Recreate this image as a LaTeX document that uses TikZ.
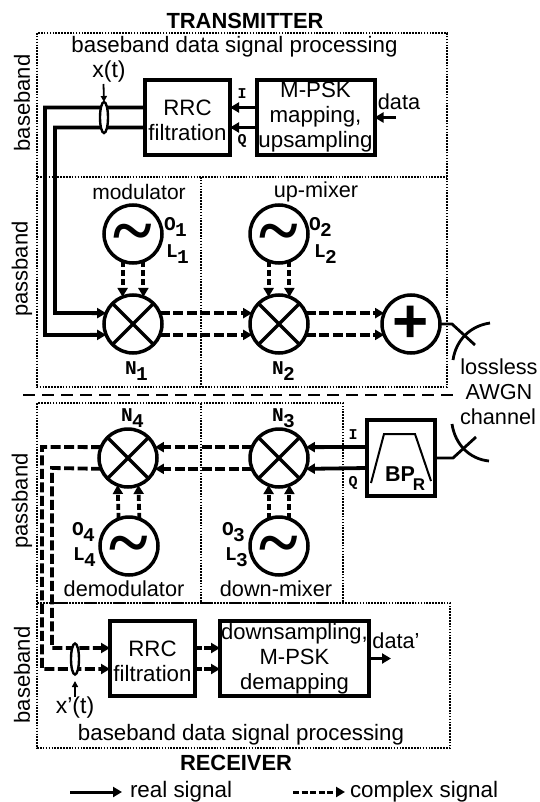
\documentclass[tikz,border=0pt]{standalone}
\usepackage{fontspec}
\setmainfont{Liberation Sans}
\newfontfamily\monof{Liberation Mono}[BoldFont={Liberation Mono Bold}]
\newfontfamily\tildef{Liberation Serif Bold}
\usetikzlibrary{arrows.meta,shapes.geometric}
\newcommand{\fsz}[1]{\fontsize{#1}{#1}\selectfont}
\newcommand{\lab}[2]{#1\kern-0.5pt\raisebox{-6pt}{#2}}
\newcommand{\wave}{\raisebox{-21pt}[0pt][0pt]{\tildef\fontsize{74}{74}\selectfont\symbol{126}}}
\newcommand{\tp}{\rule{0pt}{21pt}}
\tikzset{
  blk/.style={draw,line width=4pt,inner sep=0pt,outer sep=0pt,align=center,font=\fontsize{22.3}{25}\selectfont},
  circ/.style={draw,circle,line width=3.5pt,inner sep=0pt,outer sep=0pt,minimum size=58pt},
  txt/.style={inner sep=0pt,outer sep=0pt,font=\fsz{21.7}},
  head/.style={inner sep=0pt,outer sep=0pt,font=\bfseries\fsz{21.9}},
  mono/.style={inner sep=0pt,outer sep=0pt,anchor=base west,font=\monof\bfseries\fsz{19.5}},
  iq/.style={inner sep=0pt,outer sep=0pt,font=\monof\bfseries\fsz{15}},
  zone/.style={line width=1.8pt,dash pattern=on 1.6pt off 1.3pt},
  wire/.style={line width=3.8pt,line join=miter},
  real/.style={wire,-{Triangle[length=9pt,width=10pt]}},
  cplx/.style={real,dash pattern=on 10pt off 3.5pt},
  osclink/.style={real,dash pattern=on 6pt off 3pt},
  thin/.style={line width=1.8pt,-{Triangle[length=6pt,width=6pt]}},
  ant/.style={line width=2.8pt},
  cross/.style={line width=3.2pt},
  ring/.style={draw,ellipse,line width=2.4pt,fill=white,minimum width=8pt,minimum height=31pt,inner sep=0pt,outer sep=0pt}
}
\begin{document}
\begin{tikzpicture}[x=1pt,y=-1pt]
\useasboundingbox (0,0) rectangle (539,802);
\fill[white] (0,0) rectangle (539,802);
% zones
\draw[zone] (37,33) rectangle (447,387);
\draw[zone] (37,177) -- (447,177);
\draw[zone] (201,177) -- (201,387);
\draw[zone] (37,403) rectangle (343,603);
\draw[zone] (201,403) -- (201,603);
\draw[zone] (37,603) rectangle (450,748);
\draw[line width=1.8pt,dash pattern=on 12pt off 7pt] (23,395) -- (455,395);
% titles
\node[head] at (245,21) {TRANSMITTER};
\node[head] at (236,763) {RECEIVER};
\node[txt,font=\fsz{22.3}] at (234.5,47) {baseband data signal processing};
\node[txt,font=\fsz{22.3}] at (241,734.5) {baseband data signal processing};
\node[txt,font=\fsz{22},rotate=90] at (22,103) {baseband};
\node[txt,font=\fsz{22},rotate=90] at (22,269) {passband};
\node[txt,font=\fsz{22},rotate=90] at (22,501) {passband};
\node[txt,font=\fsz{22},rotate=90] at (22,675) {baseband};
\node[txt,font=\fsz{21}] at (139,192) {modulator};
\node[txt] at (316,192) {up-mixer};
\node[txt] at (124,589) {demodulator};
\node[txt] at (276,589) {down-mixer};
% blocks
\node[blk,minimum width=85pt,minimum height=75pt] (rrct) at (187.5,117.5) {\tp RRC\\filtration};
\node[blk,minimum width=118pt,minimum height=75pt] (psk) at (315.5,117.5) {M-PSK\\mapping,\\upsampling};
\node[blk,minimum width=85pt,minimum height=75pt] (rrcr) at (152.5,658.5) {\tp RRC\\filtration};
\node[blk,minimum width=149pt,minimum height=75pt,font=\fontsize{22}{25}\selectfont] (dem) at (294.5,658.5) {downsampling,\\M-PSK\\demapping};
\node[blk,minimum width=68pt,minimum height=76pt] (bp) at (401,458) {};
% circles
\node[circ] (o1) at (133,234) {\wave};
\node[circ] (o2) at (279,234) {\wave};
\node[circ] (o4) at (129,546) {\wave};
\node[circ] (o3) at (279,546) {\wave};
\node[circ] (n1) at (133,324) {};
\node[circ] (n2) at (279,324) {};
\node[circ] (n3) at (279,458) {};
\node[circ] (n4) at (128,458) {};
\node[circ,font=\bfseries\fsz{62}] (sum) at (411,324) {+};
\foreach \m in {n1,n2,n3,n4}{
  \draw[cross] (\m.45) -- (\m.225);
  \draw[cross] (\m.135) -- (\m.315);
}
% mono labels
\node[mono] at (164,230) {\lab{O}{1}};
\node[mono] at (166,257) {\lab{L}{1}};
\node[mono] at (309,230) {\lab{O}{2}};
\node[mono] at (314,257) {\lab{L}{2}};
\node[mono] at (125,374) {\lab{N}{1}};
\node[mono] at (272,374) {\lab{N}{2}};
\node[mono] at (121,421) {\lab{N}{4}};
\node[mono] at (272,421) {\lab{N}{3}};
\node[mono] at (72,535) {\lab{O}{4}};
\node[mono] at (73,560) {\lab{L}{4}};
\node[mono] at (222,535) {\lab{O}{3}};
\node[mono] at (225,560) {\lab{L}{3}};
\node[iq] at (242,94) {I};
\node[iq] at (242,141) {Q};
\node[iq] at (353,435) {I};
\node[iq] at (353,483) {Q};
% transmitter wiring
\draw[real] ([yshift=10pt]psk.west) -- ([yshift=10pt]rrct.east);
\draw[real] ([yshift=-10pt]psk.west) -- ([yshift=-10pt]rrct.east);
\coordinate (din) at (396,117.5);
\draw[real] (din) -- (psk.east);
\node[txt] at (399,102) {data};
\draw[real] ([yshift=10pt]rrct.west) -- (45,107.5) -- (45,335) -- (n1.202);
\draw[real] ([yshift=-10pt]rrct.west) -- (55,127.5) -- (55,313) -- (n1.158);
\node[txt,font=\fsz{23}] (xt) at (109,72) {x(t)};
\node[ring] (et) at (104,117.5) {};
\draw[thin] (103.5,84) -- (et.north);
\draw[osclink] (o1.-111) -- (n1.111);
\draw[osclink] (o1.-69) -- (n1.69);
\draw[osclink] (o2.-111) -- (n2.111);
\draw[osclink] (o2.-69) -- (n2.69);
\draw[cplx] (n1.22) -- (n2.158);
\draw[cplx] (n1.-22) -- (n2.202);
\draw[cplx] (n2.22) -- (sum.158);
\draw[cplx] (n2.-22) -- (sum.202);
\draw[ant] (sum.east) -- (452,324) -- (475,345);
\draw[ant] (453,360) .. controls (456,340) and (470,326) .. (490,323);
\node[txt] at (499,367) {lossless};
\node[txt] at (499,392) {AWGN};
\node[txt] at (498,417) {channel};
% receiver wiring
\draw[ant] (bp.east) -- (453,458) -- (476,437);
\draw[ant] (452,424) .. controls (455,444) and (469,459) .. (489,461);
\draw[line width=2pt] (371,483) -- (384,434) -- (415,434) -- (431,481);
\node[inner sep=0pt,font=\bfseries\fsz{21.5}] at (400,474) {BP};
\node[inner sep=0pt,font=\bfseries\fsz{17}] at (419,485) {R};
\draw[real] ([yshift=11pt]bp.west) -- (n3.22);
\draw[real] ([yshift=-10pt]bp.west) -- (n3.-22);
\draw[cplx] (n3.158) -- (n4.22);
\draw[cplx] (n3.202) -- (n4.-22);
\draw[cplx] (n4.158) -- (42,447) -- (42,669) -- ([yshift=-10.5pt]rrcr.west);
\draw[cplx] (n4.202) -- (52,468) -- (52,648) -- ([yshift=10.5pt]rrcr.west);
\draw[osclink] (o4.69) -- (n4.-69);
\draw[osclink] (o4.111) -- (n4.-111);
\draw[osclink] (o3.69) -- (n3.-69);
\draw[osclink] (o3.111) -- (n3.-111);
\draw[real,line width=3.4pt,dash pattern=on 7pt off 2pt] ([yshift=10.5pt]rrcr.east) -- ([yshift=10.5pt]dem.west);
\draw[real,line width=3.4pt,dash pattern=on 7pt off 2pt] ([yshift=-10.5pt]rrcr.east) -- ([yshift=-10.5pt]dem.west);
\coordinate (dout) at (391,658.5);
\draw[real] (dem.east) -- (dout);
\node[txt] at (396,641) {data'};
\node[ring] (er) at (75,659) {};
\node[txt,font=\fsz{23}] (xr) at (75,708) {x'(t)};
\coordinate (xa) at (75,697);
\draw[thin] (xa) -- (75,681);
% legend
\coordinate (l1a) at (70,792); \coordinate (l1b) at (122,792);
\coordinate (l2a) at (293,792); \coordinate (l2b) at (345,792);
\draw[real,line width=3pt] (l1a) -- (l1b);
\draw[real,line width=3pt,dash pattern=on 6pt off 2.5pt] (l2a) -- (l2b);
\node[txt,anchor=west,font=\fsz{22.4}] at (130,792) {real signal};
\node[txt,anchor=west,font=\fsz{22.4}] at (350,792) {complex signal};
\end{tikzpicture}
\end{document}
